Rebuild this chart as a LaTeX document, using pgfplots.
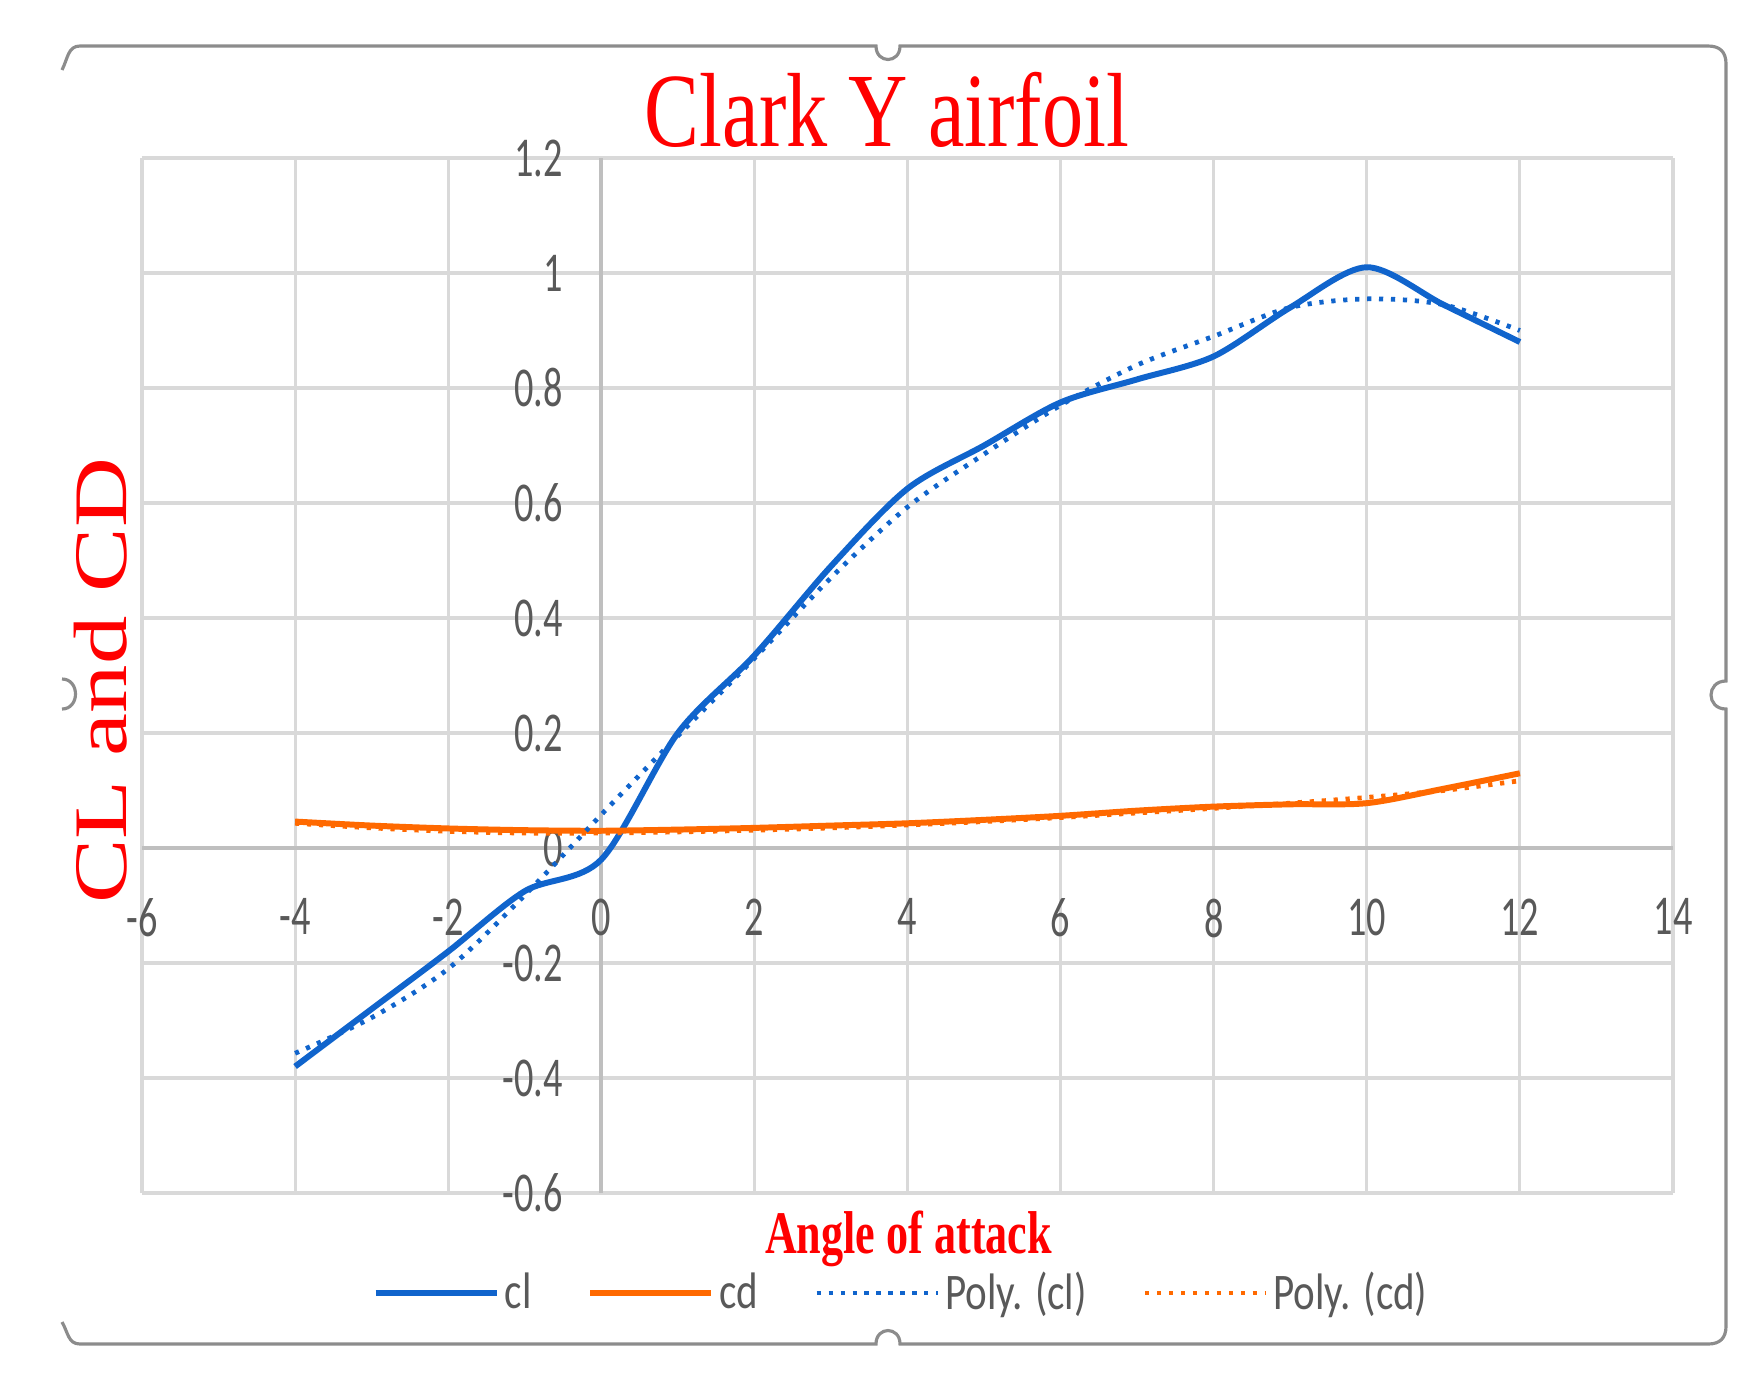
\documentclass[border=0pt]{standalone}
\usepackage{fontspec}
\setmainfont{Liberation Serif}
\newfontfamily\titlefont[FakeStretch=0.78]{Liberation Serif}
\newfontfamily\ylabfont[FakeStretch=1.28]{Liberation Serif}
\newfontfamily\xlabfont[FakeStretch=0.73]{Liberation Serif}
\newfontfamily\tickfont[FakeStretch=0.68]{Carlito}
\newfontfamily\legfont[FakeStretch=0.8]{Carlito}
\usepackage{pgfplots}
\pgfplotsset{compat=1.18}

\definecolor{clblue}{RGB}{16,100,204}
\definecolor{cdorange}{RGB}{255,105,0}
\definecolor{tickgray}{RGB}{89,89,89}
\definecolor{gridgray}{RGB}{217,217,217}
\definecolor{axisgray}{RGB}{191,191,191}
\definecolor{framegray}{RGB}{140,140,140}

\begin{document}
\begin{tikzpicture}
\useasboundingbox (0,0) rectangle (176.3mm,-138.8mm);

% chart frame (px coordinates of the reference)
\begin{scope}[x=0.1mm,y=-0.1mm,draw=framegray,line width=0.9pt]
\draw (62,70) .. controls (68,58) and (68,46) .. (80,46) -- (876,46)
  .. controls (876,64) and (900,64) .. (900,46) -- (1708,46)
  .. controls (1720,46) and (1726,52) .. (1726,64) -- (1726,681)
  .. controls (1706,681) and (1706,709) .. (1726,709) -- (1726,1326)
  .. controls (1726,1338) and (1720,1344) .. (1708,1344) -- (900,1344)
  .. controls (900,1326) and (876,1326) .. (876,1344) -- (80,1344)
  .. controls (68,1344) and (68,1332) .. (62,1322);
\draw (62,679) .. controls (80,679) and (80,709) .. (62,709);
\end{scope}

\begin{axis}[
  at={(14.2mm,-119.3mm)}, anchor=south west,
  scale only axis,
  width=153.1mm, height=103.5mm,
  xmin=-6, xmax=14, ymin=-0.6, ymax=1.2,
  xtick={-6,-4,-2,0,2,4,6,8,10,12,14},
  ytick={-0.6,-0.4,-0.2,0,0.2,0.4,0.6,0.8,1,1.2},
  axis lines=middle,
  axis line style={-, draw=axisgray, line width=1.1pt},
  hide obscured x ticks=false,
  hide obscured y ticks=false,
  major tick length=0pt,
  grid=major,
  major grid style={draw=gridgray, line width=0.9pt},
  /pgf/number format/assume math mode=true,
  tick label style={font=\tickfont\fontsize{16}{16}\selectfont, text=tickgray, inner sep=0pt},
  xticklabel style={anchor=north, yshift=-5mm},
  yticklabel style={anchor=east, xshift=-3.8mm},
  legend columns=4,
  legend image code/.code={\draw[#1] (0mm,0mm) -- (12.1mm,0mm);},
  legend style={
    at={(0.1502,-0.0966)}, anchor=west,
    draw=none, fill=none, inner sep=0pt,
    font=\legfont\fontsize{14.6}{14.6}\selectfont,
    text=tickgray,
    nodes={inner sep=0pt},
    /tikz/every odd column/.append style={column sep=0.5mm},
    /tikz/every even column/.append style={column sep=5.6mm}
  }
]
\addplot[clblue, line width=1.7pt, smooth, tension=0.5] coordinates {
  (-4,-0.38) (-3,-0.28) (-2,-0.18) (-1,-0.075) (0,-0.02) (1,0.20)
  (2,0.335) (3,0.49) (4,0.625) (5,0.70) (6,0.775) (7,0.815)
  (8,0.855) (9,0.94) (10,1.01) (11,0.945) (12,0.88)};
\addlegendentry{cl}
\addplot[cdorange, line width=1.7pt, smooth, tension=0.5] coordinates {
  (-4,0.046) (-3,0.039) (-2,0.034) (-1,0.031) (0,0.030) (1,0.032)
  (2,0.035) (3,0.039) (4,0.043) (5,0.049) (6,0.056) (7,0.065)
  (8,0.072) (9,0.076) (10,0.078) (11,0.103) (12,0.13)};
\addlegendentry{cd}
\addplot[clblue, line width=1.35pt, dash pattern=on 1.2pt off 2.2pt, smooth, tension=0.5] coordinates {
  (-4,-0.357) (-3,-0.295) (-2,-0.21) (-1,-0.082) (0,0.058) (1,0.195)
  (2,0.33) (3,0.47) (4,0.593) (5,0.685) (6,0.77) (7,0.84)
  (8,0.89) (9,0.94) (10,0.955) (11,0.945) (12,0.90)};
\addlegendentry{Poly. (cl)}
\addplot[cdorange, line width=1.35pt, dash pattern=on 1.2pt off 2.2pt, smooth, tension=0.5] coordinates {
  (-4,0.043) (-3,0.035) (-2,0.029) (-1,0.026) (0,0.026) (1,0.028)
  (2,0.031) (3,0.035) (4,0.040) (5,0.046) (6,0.053) (7,0.061)
  (8,0.069) (9,0.078) (10,0.088) (11,0.10) (12,0.117)};
\addlegendentry{Poly. (cd)}
\end{axis}

\node[anchor=base, text=red, font=\titlefont\fontsize{30}{30}\selectfont] at (88.7mm,-14.6mm) {Clark Y airfoil};
\node[anchor=base, rotate=90, text=red, font=\ylabfont\fontsize{21.5}{21.5}\selectfont] at (12.7mm,-68.1mm) {CL and CD};
\node[anchor=base, text=red, font=\xlabfont\bfseries\fontsize{17.2}{17.2}\selectfont] at (90.85mm,-125.3mm) {Angle of attack};
\end{tikzpicture}
\end{document}
